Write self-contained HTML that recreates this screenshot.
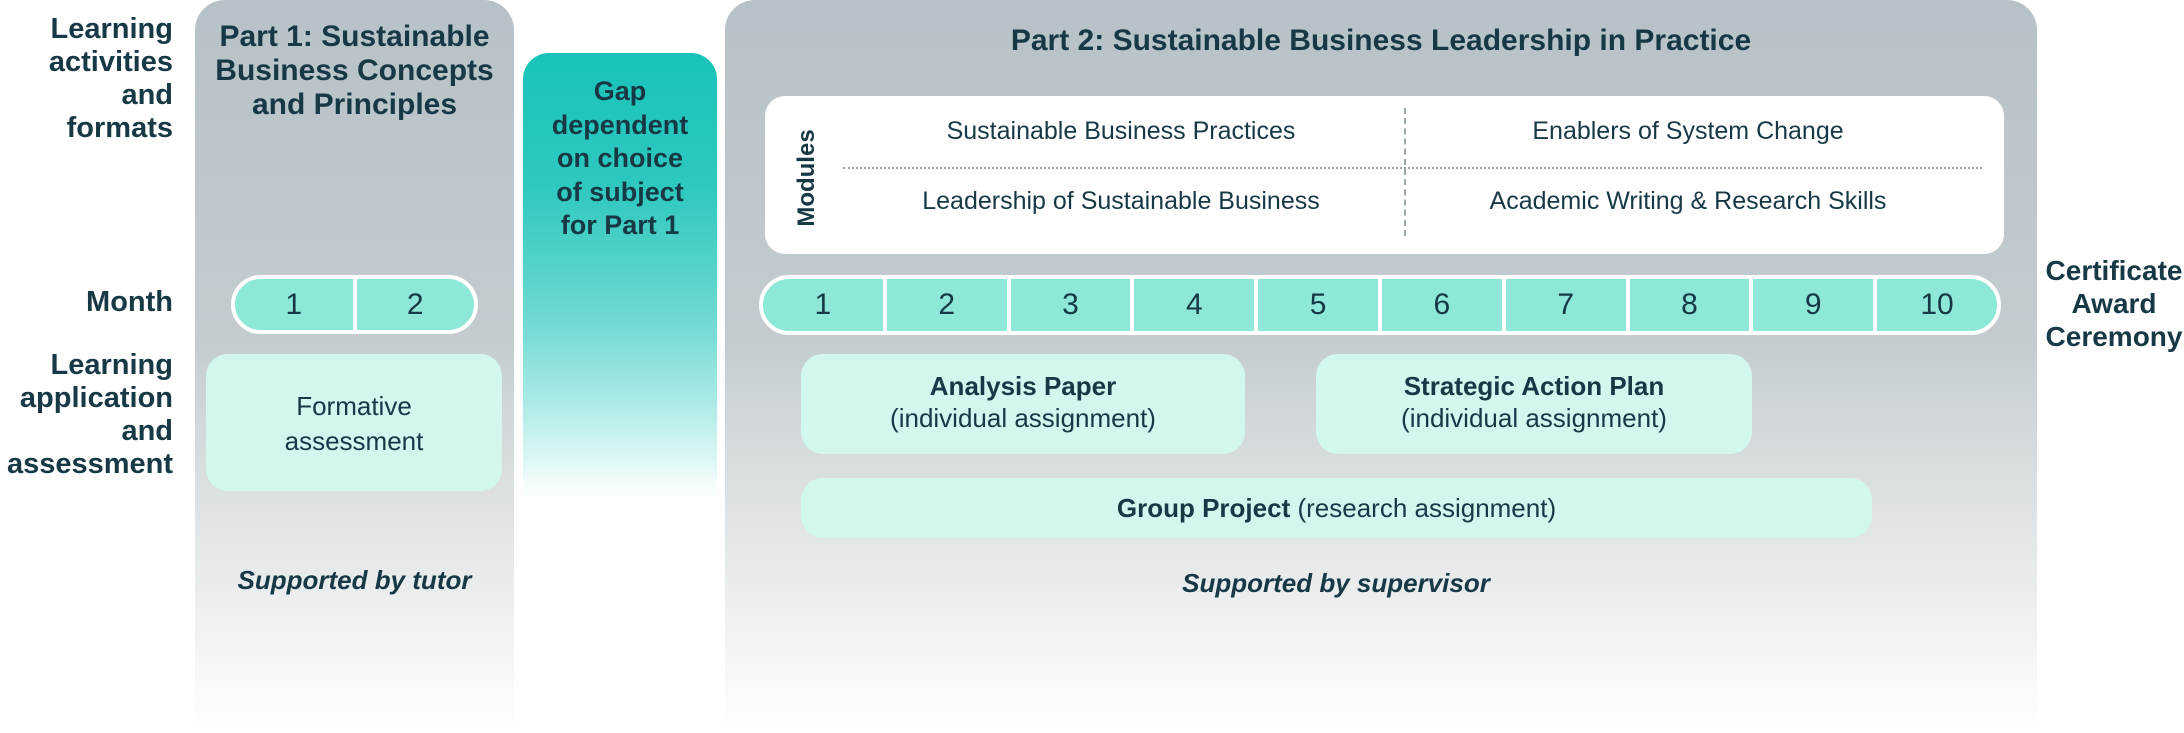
<!DOCTYPE html>
<html><head><meta charset="utf-8"><style>
*{margin:0;padding:0;box-sizing:border-box}
body{width:2184px;height:733px;background:#fff;position:relative;overflow:hidden;font-family:"Liberation Sans",sans-serif;color:#173845}
.a{position:absolute}
.c{text-align:center}
.b{font-weight:bold}
.panel{background:linear-gradient(#b6c2c7 0%,#c3cbcf 45%,#dfe3e5 70%,#fff 100%);border-radius:30px 30px 0 0}
.lab{position:absolute;right:2011px;text-align:right;font-size:29px;font-weight:bold;line-height:33px}
.pill{position:absolute;border:4px solid #fff;border-radius:30px;background:#8ee8d8;display:flex;overflow:hidden}
.pill div{flex:1;text-align:center;font-size:30px;line-height:51px;border-left:4px solid #fff}
.pill div:first-child{border-left:none}
.box{position:absolute;background:#d1f7ef;border-radius:22px;text-align:center;font-size:26px}
.mod{position:absolute;font-size:25px;text-align:center;width:560px;line-height:30px}
</style></head><body>
<div class="lab" style="top:13px">Learning<br>activities<br>and<br>formats</div>
<div class="lab" style="top:286px">Month</div>
<div class="lab" style="top:349px">Learning<br>application<br>and<br>assessment</div>

<div class="a panel" style="left:195px;top:0;width:319px;height:733px"></div>
<div class="a c b" style="left:195px;top:20px;width:319px;font-size:30px;line-height:34px">Part 1: Sustainable<br>Business Concepts<br>and Principles</div>
<div class="pill" style="left:231px;top:275px;width:247px;height:59px"><div>1</div><div>2</div></div>
<div class="box" style="left:206px;top:354px;width:296px;height:137px;line-height:35px;padding-top:35px">Formative<br>assessment</div>
<div class="a c b" style="left:195px;top:565px;width:319px;font-size:26px;font-style:italic">Supported by tutor</div>

<div class="a" style="left:523px;top:53px;width:194px;height:445px;border-radius:26px 26px 0 0;background:linear-gradient(#19c3ba 0%,#2ec8bf 30%,#6fd9d2 60%,#b8eeea 82%,#fff 100%)"></div>
<div class="a c b" style="left:523px;top:75px;width:194px;font-size:27px;line-height:33.5px">Gap<br>dependent<br>on choice<br>of subject<br>for Part 1</div>

<div class="a panel" style="left:725px;top:0;width:1312px;height:733px"></div>
<div class="a c b" style="left:725px;top:24px;width:1312px;font-size:30px">Part 2: Sustainable Business Leadership in Practice</div>
<div class="a" style="left:765px;top:96px;width:1239px;height:158px;background:#fff;border-radius:20px"></div>
<div class="a b" style="left:807px;top:178px;font-size:24px;transform:translate(-50%,-50%) rotate(-90deg);white-space:nowrap">Modules</div>
<div class="a" style="left:1404px;top:108px;height:128px;border-left:2px dashed #9aa8ae"></div>
<div class="a" style="left:843px;top:167px;width:1139px;border-top:2px dotted #9aa8ae"></div>
<div class="mod" style="left:841px;top:116px">Sustainable Business Practices</div>
<div class="mod" style="left:1408px;top:116px">Enablers of System Change</div>
<div class="mod" style="left:841px;top:186px">Leadership of Sustainable Business</div>
<div class="mod" style="left:1408px;top:186px">Academic Writing &amp; Research Skills</div>
<div class="pill" style="left:759px;top:275px;width:1242px;height:60px"><div>1</div><div>2</div><div>3</div><div>4</div><div>5</div><div>6</div><div>7</div><div>8</div><div>9</div><div>10</div></div>
<div class="box" style="left:801px;top:354px;width:444px;height:100px;line-height:32px;padding-top:16px"><b>Analysis Paper</b><br>(individual assignment)</div>
<div class="box" style="left:1316px;top:354px;width:436px;height:100px;line-height:32px;padding-top:16px"><b>Strategic Action Plan</b><br>(individual assignment)</div>
<div class="box" style="left:801px;top:478px;width:1071px;height:60px;line-height:60px"><b>Group Project</b> (research assignment)</div>
<div class="a c b" style="left:725px;top:568px;width:1222px;font-size:26px;font-style:italic">Supported by supervisor</div>

<div class="a c b" style="left:2040px;top:254px;width:148px;font-size:28px;line-height:33px">Certificate<br>Award<br>Ceremony</div>
</body></html>
